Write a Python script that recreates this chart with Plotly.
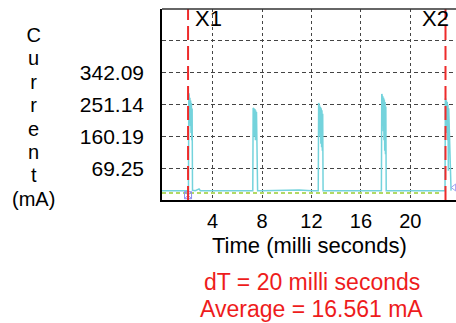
import plotly.graph_objects as go

# ---- data ----
time_ms = [-0.1, 0.5, 1.0, 1.5, 2.0,
           2.04, 2.07, 2.10, 2.13, 2.16, 2.19, 2.22, 2.25, 2.28, 2.31, 2.34, 2.37,
           2.6, 2.9, 3.0, 4.0, 5.0, 6.0, 7.0, 7.22,
           7.25, 7.28, 7.31, 7.34, 7.37, 7.40, 7.43, 7.46, 7.49, 7.52, 7.55, 7.58, 7.61, 7.64,
           8.0, 9.0, 10.0, 11.0, 12.0, 12.52,
           12.55, 12.58, 12.61, 12.64, 12.67, 12.70, 12.73, 12.76, 12.79, 12.82, 12.85, 12.88, 12.91, 12.94,
           13.5, 14.5, 15.5, 16.5, 17.5, 17.63,
           17.66, 17.69, 17.72, 17.75, 17.78, 17.81, 17.84, 17.87, 17.90, 17.93, 17.96, 17.99, 18.02, 18.05,
           18.5, 19.5, 20.5, 21.5, 22.5, 22.78,
           22.81, 22.84, 22.87, 22.90, 22.93, 22.96, 22.99, 23.02, 23.05, 23.08, 23.11, 23.3]
current_ma = [7, 7, 8, 7, 7,
              7, 283, 278, 200, 270, 190, 262, 170, 255, 150, 240, 8,
              7, 12, 7, 7, 8, 7, 7, 7,
              7, 241, 240, 160, 238, 165, 236, 150, 234, 158, 230, 140, 225, 7,
              7, 8, 7, 9, 7, 7,
              7, 255, 252, 170, 248, 160, 244, 140, 240, 130, 235, 120, 225, 7,
              7, 8, 7, 9, 7, 7,
              7, 281, 278, 190, 274, 175, 270, 150, 265, 120, 258, 110, 245, 7,
              7, 8, 7, 7, 8, 7,
              7, 269, 266, 185, 262, 170, 258, 150, 250, 63, 240, 7]

y_ticks = [69.25, 160.19, 251.14, 342.09, 433.03]
y_tick_labels = ["69.25", "160.19", "251.14", "342.09", ""]
x_ticks = [4, 8, 12, 16, 20]
x_tick_labels = ["4", "8", "12", "16", "20"]
y_title_chars = ["C", "u", "r", "r", "e", "n", "t", "(mA)"]

cursor_x1 = 2.01
cursor_x2 = 22.85
trigger_level = 0.0
trigger_span = [-0.1, 22.5]

x_range = [-0.1, 23.7]
y_range = [-19.5, 521.5]

FONT = "Liberation Sans, Arial, sans-serif"

fig = go.Figure()

fig.add_trace(go.Scatter(x=trigger_span, y=[trigger_level, trigger_level], mode="lines",
                         line=dict(color="#9acd32", width=1.5, dash="4px,3px"),
                         hoverinfo="skip", showlegend=False))

fig.add_trace(go.Scatter(x=time_ms, y=current_ma, mode="lines",
                         line=dict(color="#74d3dc", width=1.5),
                         showlegend=False))

fig.add_trace(go.Scatter(x=[cursor_x1], y=[-6], mode="markers",
                         marker=dict(symbol="square-x-open", size=7, color="#8c8cf0", line=dict(width=1)),
                         showlegend=False, hoverinfo="skip"))
fig.add_trace(go.Scatter(x=[23.55], y=[16], mode="markers",
                         marker=dict(symbol="triangle-left-open", size=6, color="#a0a0f0", line=dict(width=1)),
                         showlegend=False, hoverinfo="skip", cliponaxis=False))

for cx in (cursor_x1, cursor_x2):
    fig.add_shape(type="line", xref="x", yref="paper", x0=cx, x1=cx, y0=0, y1=1,
                  line=dict(color="#ee2b2b", width=2, dash="14px,6px"))

fig.add_shape(type="line", xref="paper", yref="paper", x0=0, x1=1, y0=1, y1=1,
              line=dict(color="#333333", width=1.5))

fig.update_xaxes(range=x_range, tickvals=x_ticks, ticktext=x_tick_labels,
                 showgrid=True, gridcolor="#444444", griddash="3px,3px", gridwidth=1,
                 showline=True, linecolor="black", linewidth=2,
                 ticks="", zeroline=False,
                 tickfont=dict(family=FONT, size=20, color="black"),
                 ticklabelstandoff=2)
fig.update_yaxes(range=y_range, tickvals=y_ticks, ticktext=y_tick_labels,
                 showgrid=True, gridcolor="#444444", griddash="4px,3px", gridwidth=1,
                 showline=True, linecolor="black", linewidth=1.5,
                 ticks="inside", ticklen=4, tickcolor="#444444", zeroline=False,
                 tickfont=dict(family=FONT, size=21, color="black"),
                 ticklabelstandoff=12)

W, H = 456, 323
L, R, T, B = 162, 0, 9, 123
PW, PH = W - L - R, H - T - B

def px(xp):
    return (xp - L) / PW

def py(yp):
    return (H - B - yp) / PH

y_title_text = "<br>".join("<span style='font-size:20px'>%s</span>" % c for c in y_title_chars)

annotations = [
    dict(text=y_title_text, x=px(33), y=py(117),
         font=dict(family=FONT, size=18, color="black")),
    dict(text="X1", x=px(208), y=py(18), font=dict(family=FONT, size=22, color="black")),
    dict(text="X2", x=px(435), y=py(18), font=dict(family=FONT, size=22, color="black")),
    dict(text="Time (milli seconds)", x=px(309), y=py(245),
         font=dict(family=FONT, size=22, color="black")),
    dict(text="dT = 20 milli seconds", x=px(312), y=py(282),
         font=dict(family=FONT, size=23, color="#ee1c1c")),
    dict(text="Average = 16.561 mA", x=px(311), y=py(309),
         font=dict(family=FONT, size=23, color="#ee1c1c")),
]
for a in annotations:
    a.update(xref="paper", yref="paper", showarrow=False, xanchor="center", yanchor="middle")
fig.update_layout(annotations=annotations)

fig.update_layout(width=W, height=H, margin=dict(l=L, r=R, t=T, b=B, pad=0),
                  plot_bgcolor="white", paper_bgcolor="white", showlegend=False)

fig.write_html("out.html", config={"displayModeBar": False},
               post_script="document.body.style.margin='0';document.body.style.overflow='hidden';")
